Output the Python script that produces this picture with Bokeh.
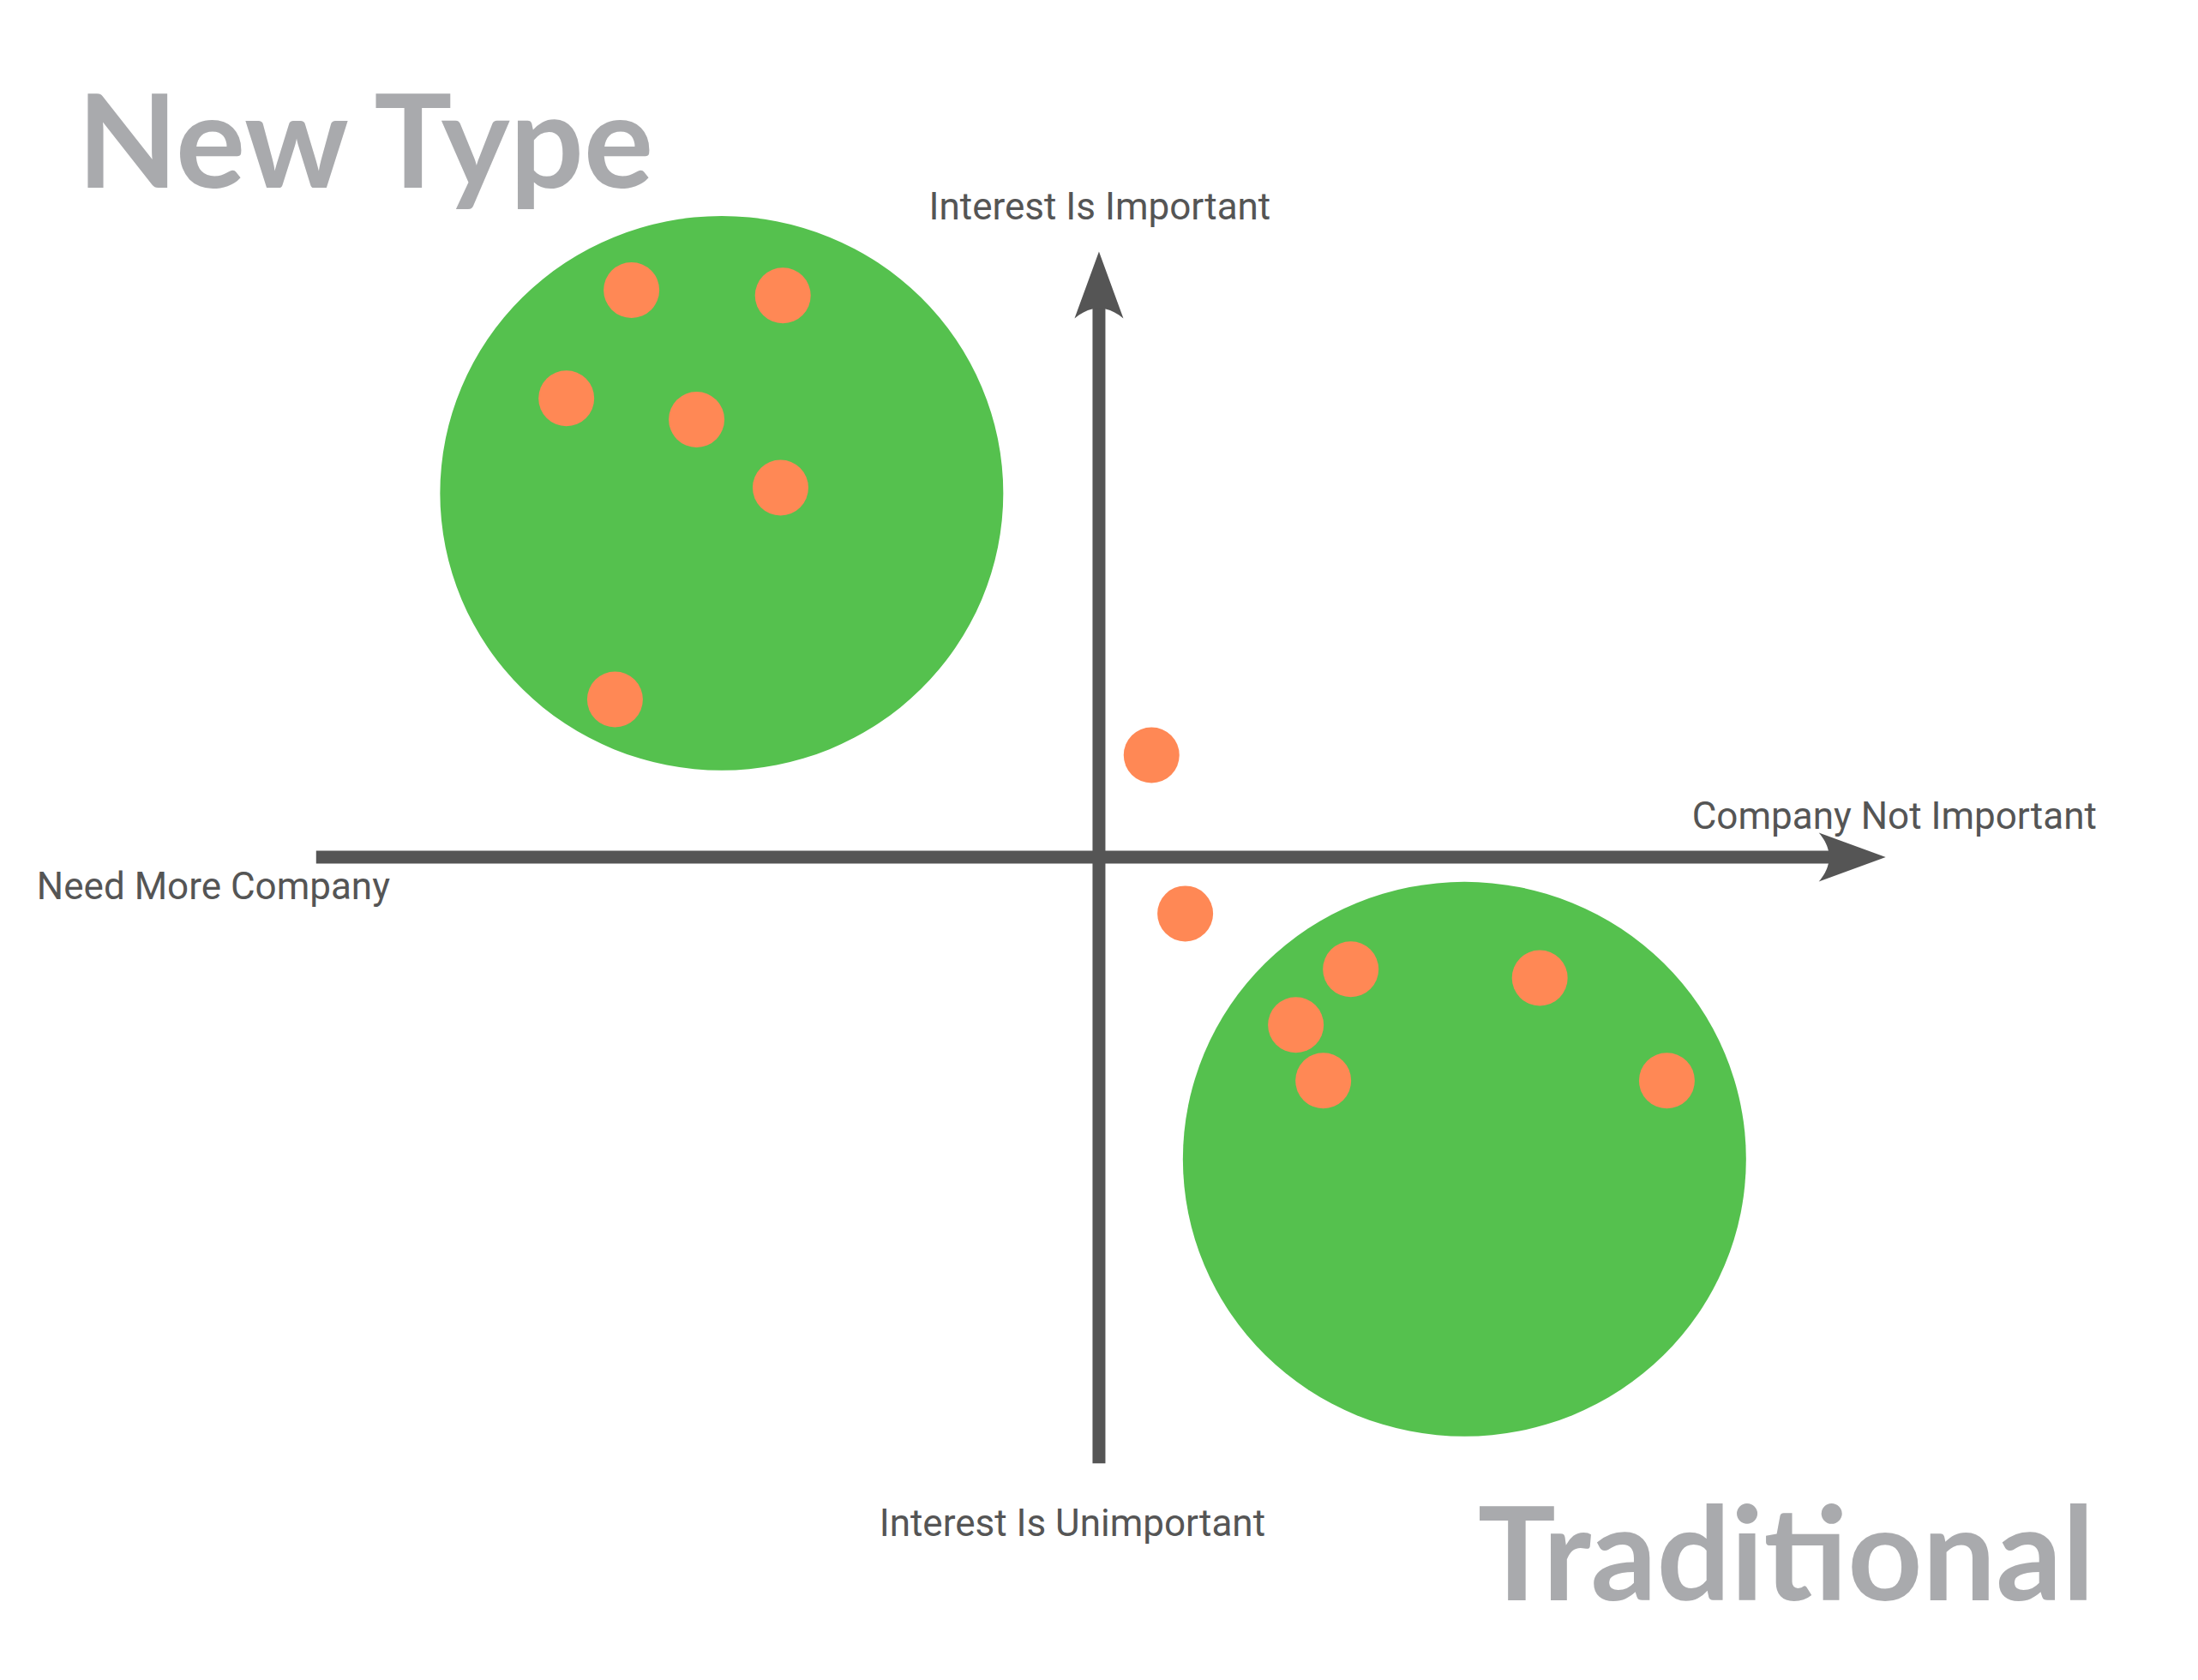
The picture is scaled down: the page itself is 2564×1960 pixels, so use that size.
import numpy as np
from bokeh.plotting import figure
from bokeh.models import Range1d
from bokeh.core.properties import value
from bokeh.embed import file_html
from bokeh.resources import INLINE

# ---------------- data ----------------
# axes extents (data units; origin at the crossing)
x_axis_ext = [-9.98, 10.03]
y_axis_ext = [-7.73, 7.72]

# cluster regions
cluster_names = ["New Type", "Traditional"]
cluster_x = [-4.81, 4.66]
cluster_y = [4.64, -3.85]
cluster_w = [7.18, 7.18]
cluster_h = [7.07, 7.07]

# individual responses
point_x = [-5.96, -4.03, -6.79, -5.13, -4.06, -6.17, 0.67, 1.10, 3.21, 5.62, 2.51, 2.86, 7.24]
point_y = [7.23, 7.16, 5.85, 5.58, 4.71, 2.01, 1.30, -0.72, -1.43, -1.54, -2.14, -2.85, -2.85]

# labels
axis_labels = ["Interest Is Important", "Interest Is Unimportant", "Company Not Important", "Need More Company"]
axis_label_x = [0.01, -0.34, 10.14, -11.29]
axis_label_y = [8.17, -8.61, 0.40, -0.49]

title_labels = ["New Type", "Traditional"]
title_x = [-9.31, 8.76]
title_y = [8.61, -9.40]

# ---------------- styling ----------------
AXIS_COL = "#555555"
GREEN = "#55C14E"
ORANGE = "#FF8855"
TITLE_COL = "#A9AAAD"
PX = 91.5  # pixels per data unit

W, H = 2548, 1944
p = figure(width=W, height=H, output_backend="svg", toolbar_location=None,
           min_border=0, x_range=Range1d(-14.005, 13.842), y_range=Range1d(-10.322, 10.923))
p.axis.visible = False
p.grid.visible = False
p.outline_line_color = None
p.background_fill_color = "white"
p.border_fill_color = "white"

# clusters
p.ellipse(x=cluster_x, y=cluster_y, width=cluster_w, height=cluster_h,
          fill_color=GREEN, line_color=None)

# arrow head shape (pixels, pointing +x, tip at origin)
head_len, head_half, notch = 78.0, 28.5, 66.0
t = np.linspace(0, 1, 12)
p0 = np.array([-head_len, -head_half]); p1 = np.array([-notch, -head_half * 0.5]); p2 = np.array([-notch, 0.0])
curve = ((1 - t)[:, None] ** 2) * p0 + (2 * (1 - t) * t)[:, None] * p1 + (t[:, None] ** 2) * p2
upper = curve
lower = curve[::-1].copy(); lower[:, 1] *= -1
head = np.vstack([[[0.0, 0.0]], upper, lower[1:]]) / PX
notch_d = (notch - 2) / PX

# horizontal axis
p.line(x=[x_axis_ext[0], x_axis_ext[1] - notch_d], y=[0, 0], line_color=AXIS_COL, line_width=15, line_cap="butt")
p.patch(x=list(x_axis_ext[1] + head[:, 0]), y=list(head[:, 1]), fill_color=AXIS_COL, line_color=None)
# vertical axis
p.line(x=[0, 0], y=[y_axis_ext[0], y_axis_ext[1] - notch_d], line_color=AXIS_COL, line_width=15, line_cap="butt")
p.patch(x=list(head[:, 1]), y=list(y_axis_ext[1] + head[:, 0]), fill_color=AXIS_COL, line_color=None)

# points
p.scatter(x=point_x, y=point_y, size=65, marker="circle", fill_color=ORANGE, line_color=None)

# axis labels
p.text(x=axis_label_x, y=axis_label_y, text=axis_labels, text_font=value("Roboto"),
       text_font_size="44px", text_color=AXIS_COL, text_align="center", text_baseline="alphabetic",
       y_offset=-11)

# titles
p.text(x=title_x, y=title_y, text=title_labels, text_font=value("Lato"), text_font_style="bold",
       text_font_size="152px", text_color=TITLE_COL, text_align="center", text_baseline="alphabetic",
       y_offset=-52)

open("out.html", "w").write(file_html(p, INLINE))
